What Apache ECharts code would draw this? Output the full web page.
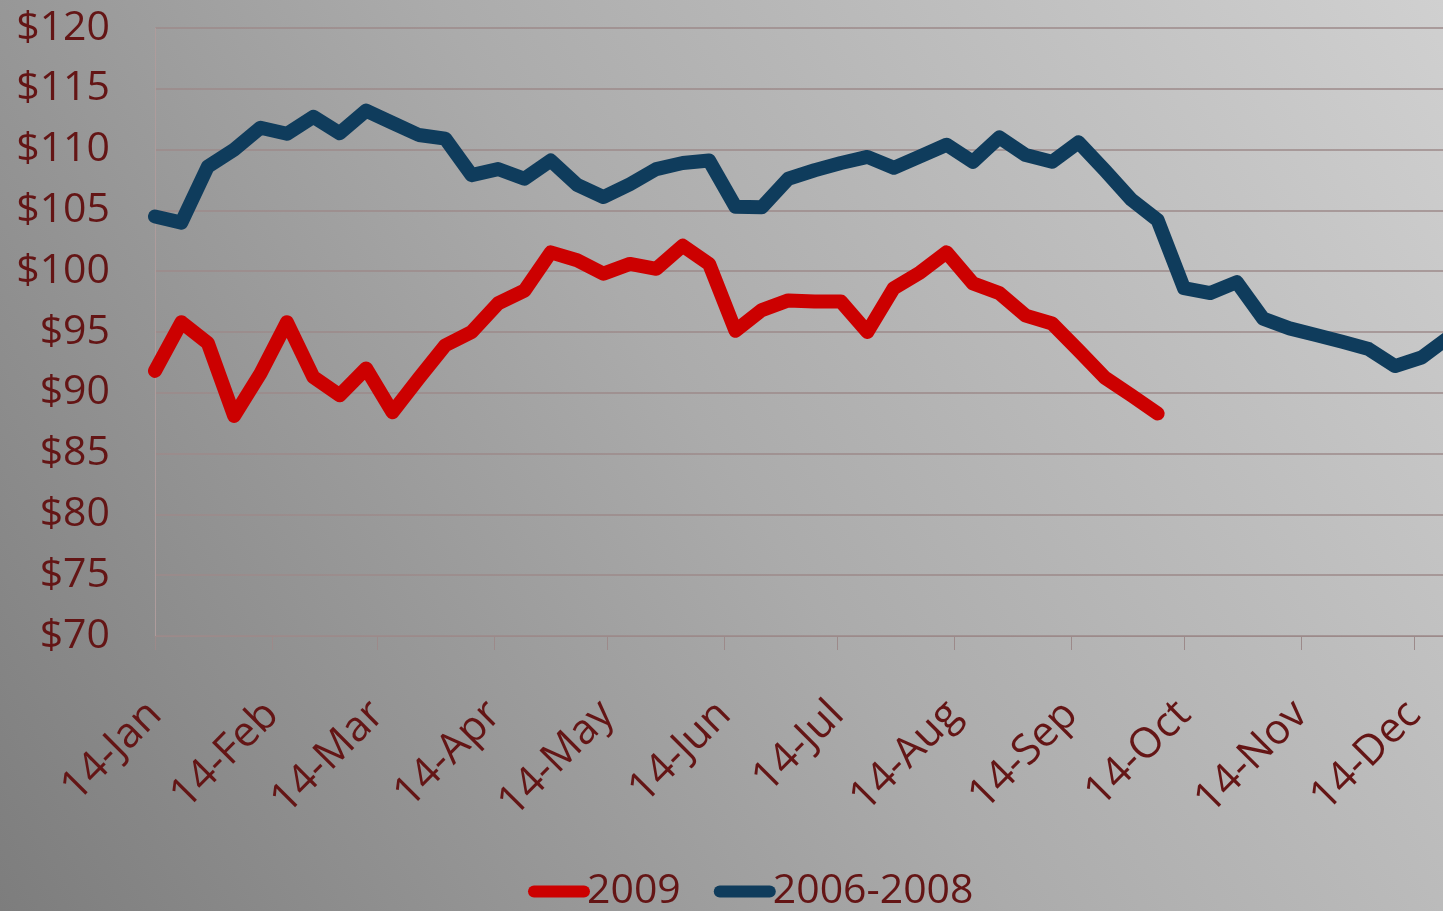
<!DOCTYPE html>
<html>
<head>
<meta charset="utf-8">
<script src="https://cdn.jsdelivr.net/npm/echarts@6/dist/echarts.min.js"></script>
<style>
  html, body { margin: 0; padding: 0; }
  #chart { width: 1443px; height: 911px; }
</style>
</head>
<body>
<div id="chart"></div>
<script>
// weekly prices, first point on 14-Jan, one point every 7 days
var price2009 = [91.8, 95.8, 94.1, 88.1, 91.6, 95.8, 91.3, 89.8, 92.0, 88.4,
  91.2, 93.9, 95.0, 97.35, 98.4, 101.55, 100.9, 99.8, 100.6, 100.2,
  102.1, 100.6, 95.1, 96.8, 97.6, 97.5, 97.5, 95.0, 98.6, 99.9,
  101.55, 99.0, 98.2, 96.35, 95.7, 93.5, 91.25, 89.8, 88.3];
var price0608 = [104.5, 104.0, 108.6, 110.0, 111.8, 111.3, 112.7, 111.35, 113.2, 112.2,
  111.2, 110.9, 107.9, 108.4, 107.6, 109.1, 107.1, 106.1, 107.15, 108.4,
  108.9, 109.1, 105.3, 105.25, 107.6, 108.3, 108.9, 109.4, 108.5, 109.45,
  110.4, 109.0, 111.0, 109.55, 109.0, 110.6, 108.3, 105.9, 104.2, 98.6,
  98.2, 99.1, 96.1, 95.3, 94.75, 94.2, 93.6, 92.2, 92.9, 94.5];
var monthNames = ['Jan', 'Feb', 'Mar', 'Apr', 'May', 'Jun', 'Jul', 'Aug', 'Sep', 'Oct', 'Nov', 'Dec'];
var yTicks = {min: 70, max: 120, step: 5};

// one category per day, 14-Jan .. 13-Jan
var days = [];
var start = Date.UTC(2009, 0, 14);
for (var d = 0; d < 365; d++) {
  var dt = new Date(start + d * 86400000);
  days.push(dt.getUTCDate() + '-' + monthNames[dt.getUTCMonth()]);
}
function weekly(arr) {
  return arr.map((v, i) => [i * 7, v]);
}
var isLabelDay = (idx, val) => val.indexOf('14-') === 0;

var txt = '#641515';
var font = '"Open Sans", sans-serif';
var chart = echarts.init(document.getElementById('chart'));
chart.setOption({
  backgroundColor: {
    type: 'linear', x: 1, y: 0, x2: 0, y2: 1,
    colorStops: [
      {offset: 0, color: '#d0d0d0'},
      {offset: 0.5, color: '#ababab'},
      {offset: 1, color: '#7d7d7d'}
    ]
  },
  textStyle: {fontFamily: font},
  grid: {left: 155, top: 28, width: 1372, bottom: 275, outerBoundsMode: 'none', containLabel: false},
  legend: {
    left: 523, top: 866,
    itemWidth: 62, itemHeight: 12, itemGap: 33,
    icon: 'path://M6,0L56,0A6,6,0,0,1,56,12L6,12A6,6,0,0,1,6,0Z',
    textStyle: {color: txt, fontSize: 41, fontFamily: font, padding: [0, 0, 0, -8]},
    data: ['2009', '2006-2008']
  },
  xAxis: {
    type: 'category',
    boundaryGap: false,
    data: days,
    axisLine: {lineStyle: {color: '#9c8a8a', width: 1}},
    axisTick: {interval: isLabelDay, length: 14, lineStyle: {color: '#9c8a8a'}},
    axisLabel: {
      interval: isLabelDay, rotate: 45, margin: 72, hideOverlap: false,
      color: txt, fontSize: 42, fontFamily: font
    },
    splitLine: {show: false}
  },
  yAxis: {
    type: 'value',
    min: yTicks.min, max: yTicks.max, interval: yTicks.step,
    axisLine: {show: true, lineStyle: {color: '#ae9c9c', width: 1}},
    axisTick: {show: false},
    axisLabel: {formatter: '${value}', margin: 45, color: txt, fontSize: 41, fontFamily: font},
    splitLine: {lineStyle: {color: '#9c8a8a', width: 1.5}}
  },
  series: [
    {
      name: '2009', type: 'line', symbol: 'none',
      itemStyle: {color: '#cc0000'},
      lineStyle: {color: '#cc0000', width: 14, join: 'round', cap: 'round'},
      data: weekly(price2009)
    },
    {
      name: '2006-2008', type: 'line', symbol: 'none',
      itemStyle: {color: '#0f3c5c'},
      lineStyle: {color: '#0f3c5c', width: 14, join: 'round', cap: 'round'},
      data: weekly(price0608)
    }
  ]
});
</script>
</body>
</html>
